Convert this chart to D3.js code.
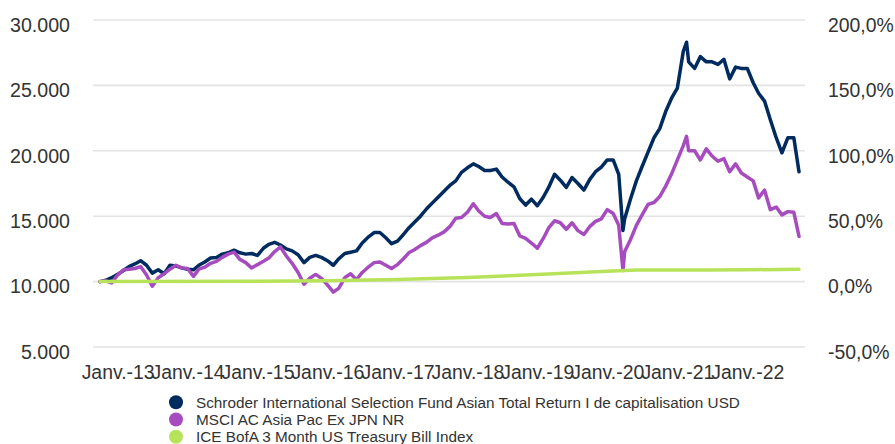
<!DOCTYPE html>
<html><head><meta charset="utf-8">
<script src="https://cdn.jsdelivr.net/npm/d3@7"></script>
<style>
html,body{margin:0;padding:0;background:#fff;}
text{font-family:"Liberation Sans",Arial,sans-serif;fill:#333;}
</style></head><body>
<svg id="c" width="895" height="444"></svg>
<script>
const dates = ["2012-10-01","2012-11-01","2012-12-01","2013-01-01","2013-02-01","2013-03-01","2013-04-01","2013-05-01","2013-06-01","2013-07-01","2013-08-01","2013-09-01","2013-10-01","2013-11-01","2013-12-01",
"2014-01-01","2014-02-01","2014-03-01","2014-04-01","2014-05-01","2014-06-01","2014-07-01","2014-08-01","2014-09-01","2014-10-01","2014-11-01","2014-12-01",
"2015-01-01","2015-02-01","2015-03-01","2015-04-01","2015-05-01","2015-06-01","2015-07-01","2015-08-01","2015-09-01","2015-10-01","2015-11-01","2015-12-01",
"2016-01-01","2016-02-01","2016-03-01","2016-04-01","2016-05-01","2016-06-01","2016-07-01","2016-08-01","2016-09-01","2016-10-01","2016-11-01","2016-12-01",
"2017-01-01","2017-02-01","2017-03-01","2017-04-01","2017-05-01","2017-06-01","2017-07-01","2017-08-01","2017-09-01","2017-10-01","2017-11-01","2017-12-01",
"2018-01-01","2018-02-01","2018-03-01","2018-04-01","2018-05-01","2018-06-01","2018-07-01","2018-08-01","2018-09-01","2018-10-01","2018-11-01","2018-12-01",
"2019-01-01","2019-02-01","2019-03-01","2019-04-01","2019-05-01","2019-06-01","2019-07-01","2019-08-01","2019-09-01","2019-10-01","2019-11-01","2019-12-01",
"2020-01-01","2020-02-01","2020-03-01","2020-03-23","2020-04-01","2020-05-01","2020-06-01","2020-07-01","2020-08-01","2020-09-01","2020-10-01","2020-11-01","2020-12-01",
"2021-01-01","2021-02-01","2021-02-18","2021-03-01","2021-04-01","2021-05-01","2021-06-01","2021-07-01","2021-08-01","2021-09-01","2021-10-01","2021-11-01","2021-12-01",
"2022-01-01","2022-02-01","2022-03-01","2022-04-01","2022-05-01","2022-06-01","2022-07-01","2022-08-01","2022-09-01","2022-09-28"];

const fundValues = [10000,10100,10300,10550,10850,11150,11350,11600,11250,10650,10900,10600,11250,11200,11050,
10950,10900,11250,11500,11800,11850,12100,12200,12400,12200,12100,12150,
12000,12550,12850,13000,12800,12500,12350,12050,11450,11850,12000,11850,
11600,11250,11750,12150,12250,12350,12950,13400,13750,13750,13350,12900,
13100,13600,14100,14550,15000,15550,16000,16450,16900,17350,17700,18350,
18700,19000,18800,18500,18500,18600,18000,17600,17250,16350,15850,16300,
15800,16450,17200,18200,17750,17200,17950,17500,17000,17800,18400,18750,
19300,19300,18200,13900,14800,16300,17700,18800,19900,21000,21700,23000,24000,
24800,27600,28300,26800,26300,27200,26800,26800,26600,27000,25500,26400,26300,
26300,25200,24400,23800,22400,21000,19850,21000,21000,18400];

const indexValues = [10000,10050,9900,10500,10900,10950,11000,11150,10500,9650,10300,10600,10950,11250,11050,
11000,10400,10950,11100,11400,11550,11850,12100,12250,11700,11450,11050,
11300,11550,11800,12300,12650,11950,11400,10700,9800,10250,10550,10250,
9750,9200,9500,10300,10600,10150,10700,11100,11450,11500,11250,11000,
11300,11750,12200,12450,12750,13000,13350,13550,13800,14200,14850,14900,
15300,15950,15400,15000,14900,15200,14450,14400,14450,13500,13300,12950,
12550,13300,14100,14650,14500,14000,14500,13900,13600,14200,14600,14800,
15500,15200,14300,10850,12300,13200,14300,15100,15900,16050,16500,17300,18200,
19300,20400,21100,20000,20000,19300,20150,19600,19200,19400,18400,19000,18300,
18000,17700,16400,17000,15500,15700,15100,15350,15300,13450];

const tbillDates = ["2012-10-01","2015-01-01","2016-01-01","2017-01-01","2018-01-01","2019-01-01","2020-01-01","2020-06-01","2021-06-01","2022-01-01","2022-09-28"];
const tbillValues = [10000,10030,10070,10160,10320,10540,10800,10880,10890,10900,10950];

const leftTicks = [5000,10000,15000,20000,25000,30000];
const rightTicks = [-0.5,0,0.5,1,1.5,2];
const xTickYears = [2013,2014,2015,2016,2017,2018,2019,2020,2021,2022];
const seriesNames = ["Schroder International Selection Fund Asian Total Return I de capitalisation USD","MSCI AC Asia Pac Ex JPN NR","ICE BofA 3 Month US Treasury Bill Index"];
const seriesColors = ["#002b5f","#a64cbf","#b7e35a"];

const parse = d3.timeParse("%Y-%m-%d");
const svg = d3.select("#c");

const x = d3.scaleTime().domain([parse("2012-10-01"), parse("2022-09-28")]).range([100, 799]);
const y = d3.scaleLinear().domain([5000, 30000]).range([347, 20]);
const yR = d3.scaleLinear().domain([-0.5, 2]).range([347, 20]);

// grid
svg.append("g").selectAll("line").data(leftTicks).join("line")
  .attr("x1", 93).attr("x2", 805)
  .attr("y1", d => y(d)).attr("y2", d => y(d))
  .attr("stroke", "#e3e3e3").attr("stroke-width", 1.6);

// left axis
const fmtL = v => d3.format(",")(v).replace(/,/g, ".");
const gL = svg.append("g").attr("transform","translate(70,0)")
  .call(d3.axisLeft(y).tickValues(leftTicks).tickSize(0).tickPadding(0).tickFormat(fmtL));
gL.select(".domain").remove();
gL.selectAll("text").attr("font-size", 19.6).attr("dy", "0.58em").attr("fill","#333")
  .attr("font-family","Liberation Sans, Arial, sans-serif");

// right axis
const fmtR = v => (v*100).toFixed(1).replace(".", ",") + "%";
const gR = svg.append("g").attr("transform","translate(828,0)")
  .call(d3.axisRight(yR).tickValues(rightTicks).tickSize(0).tickPadding(0).tickFormat(fmtR));
gR.select(".domain").remove();
gR.selectAll("text").attr("font-size", 19.4).attr("dy", "0.58em").attr("fill","#333")
  .attr("font-family","Liberation Sans, Arial, sans-serif");

// x axis
const gX = svg.append("g").attr("transform","translate(0,364)")
  .call(d3.axisBottom(x).tickValues(xTickYears.map(yv => new Date(yv,0,1))).tickSize(0).tickPadding(0)
    .tickFormat(d => "Janv.-" + String(d.getFullYear()).slice(2)));
gX.select(".domain").remove();
gX.selectAll("text").attr("font-size", 19.4).attr("dy", "0.75em").attr("fill","#333")
  .attr("font-family","Liberation Sans, Arial, sans-serif");

// lines
const line = d3.line().x(d => x(d[0])).y(d => y(d[1])).curve(d3.curveLinear);
const fundData = dates.map((d,i) => [parse(d), fundValues[i]]);
const indexData = dates.map((d,i) => [parse(d), indexValues[i]]);
const tbillData = tbillDates.map((d,i) => [parse(d), tbillValues[i]]);
[fundData, indexData, tbillData].forEach((data, k) => {
  svg.append("path").datum(data).attr("d", line).attr("fill","none")
    .attr("stroke", seriesColors[k]).attr("stroke-width", 3.5)
    .attr("stroke-linejoin","round").attr("stroke-linecap","round");
});

// legend
const lg = svg.append("g");
seriesNames.forEach((name, i) => {
  const cy = 402.3 + i*17.2;
  lg.append("circle").attr("cx", 176).attr("cy", cy).attr("r", 7).attr("fill", seriesColors[i]);
  lg.append("text").attr("x", 196).attr("y", cy + 5.5).attr("font-size", 15.3).attr("fill","#333").text(name);
});
</script>
</body></html>
